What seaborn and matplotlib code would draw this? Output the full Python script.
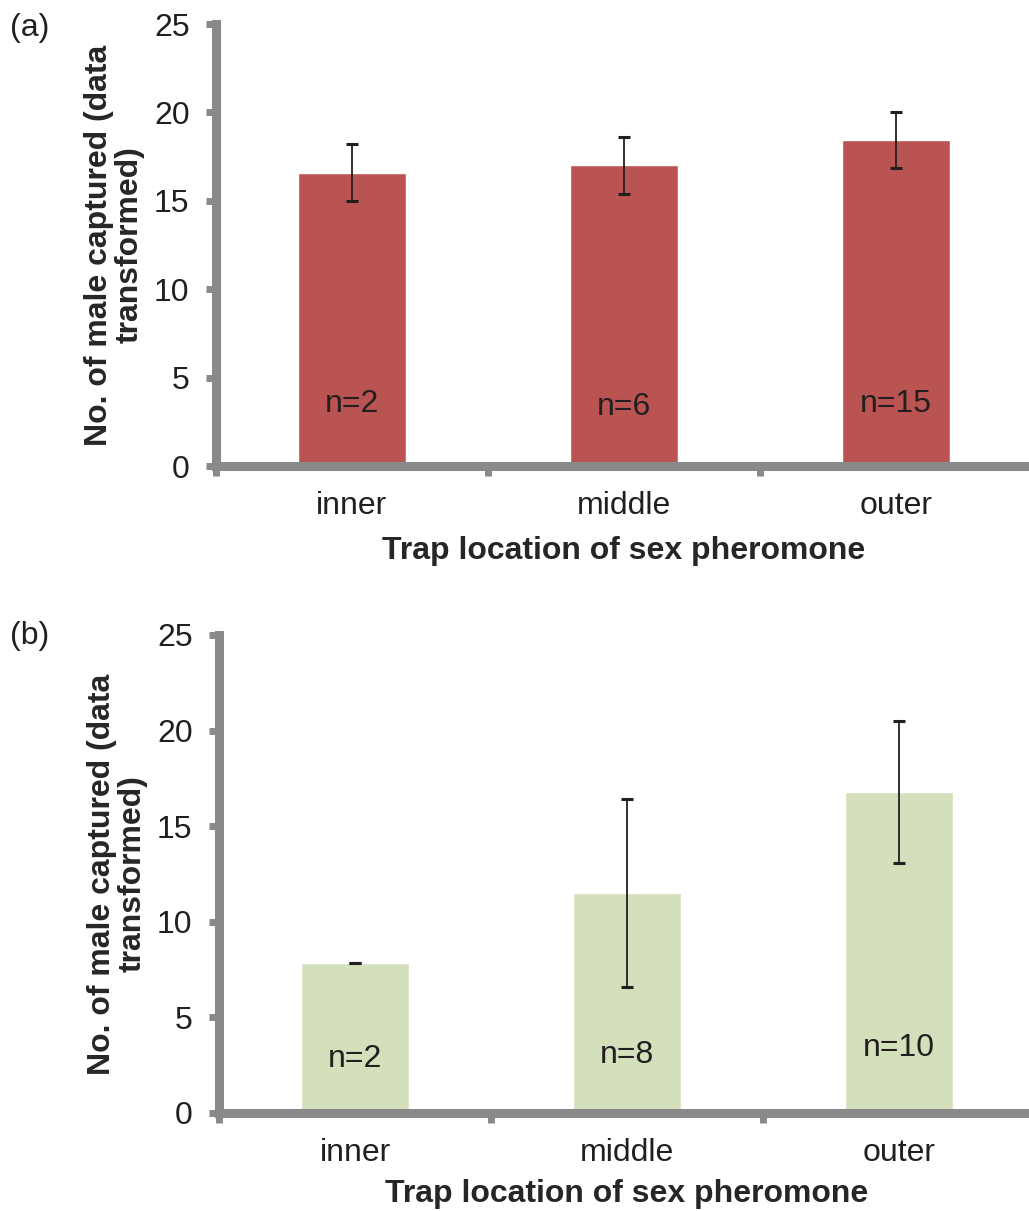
import matplotlib
matplotlib.use("Agg")
import matplotlib.pyplot as plt
import seaborn as sns
import pandas as pd

# data
locations = ["inner", "middle", "outer"]
means_a = [16.6, 17.0, 18.45]
errs_a = [1.6, 1.6, 1.6]
n_a = [2, 6, 15]
means_b = [7.85, 11.5, 16.8]
errs_b = [0.0, 4.9, 3.7]
n_b = [2, 8, 10]

sns.set_style("ticks")
plt.rcParams["font.family"] = ["Liberation Sans", "DejaVu Sans"]
plt.rcParams["text.color"] = "#231f20"

GREY = "#898989"
FS = 23


def draw_panel(ax, means, errs, ns, color, n_y, label_y):
    df = pd.DataFrame({"loc": locations, "val": means})
    sns.barplot(data=df, x="loc", y="val", ax=ax, color=color, width=0.4,
                saturation=1, errorbar=None)
    ax.errorbar(range(len(means)), means, yerr=errs, fmt="none", ecolor="#231f20",
                elinewidth=1.3, capsize=4.6, capthick=2.2)
    for i, n in enumerate(ns):
        ax.text(i, n_y[i], f"n={n}", ha="center", va="center", fontsize=FS)

    ax.set_xlim(-0.5, 2.5)
    ax.set_ylim(0, 25)
    ax.set_yticks(range(0, 26, 5))
    ax.set_xticks([-0.5, 0.5, 1.5, 2.5], minor=True)
    ax.tick_params(axis="x", which="major", length=0, pad=18, labelsize=FS, labelcolor="#231f20")
    ax.tick_params(axis="x", which="minor", length=7, width=5, color=GREY)
    ax.tick_params(axis="y", length=7, width=5, color=GREY, pad=12, labelsize=FS,
                   labelcolor="#231f20")
    for side in ["top", "right"]:
        ax.spines[side].set_visible(False)
    for side in ["left", "bottom"]:
        ax.spines[side].set_linewidth(6.5)
        ax.spines[side].set_color(GREY)

    ax.set_xlabel("Trap location of sex pheromone", fontsize=FS, fontweight="bold", va="top")
    ax.set_ylabel("No. of male captured (data\ntransformed)", fontsize=FS,
                  fontweight="bold", linespacing=1.05)
    ax.xaxis.set_label_coords(0.5, label_y)
    ax.yaxis.set_label_coords(-0.087, 0.5)


fig = plt.figure(figsize=(10.29, 12.11), dpi=100)
ax1 = fig.add_axes([216 / 1029, 1 - 466 / 1211, 816 / 1029, 442 / 1211])
ax2 = fig.add_axes([219 / 1029, 1 - 1113 / 1211, 816 / 1029, 478 / 1211])

draw_panel(ax1, means_a, errs_a, n_a, "#b95452", [3.5, 3.35, 3.5], -0.158)
draw_panel(ax2, means_b, errs_b, n_b, "#d4dfbc", [2.85, 3.05, 3.4], -0.139)

fig.text(10 / 1029, 1 - 28 / 1211, "(a)", fontsize=FS, ha="left", va="center")
fig.text(10 / 1029, 1 - 636 / 1211, "(b)", fontsize=FS, ha="left", va="center")

plt.savefig("out.png", dpi=100)
